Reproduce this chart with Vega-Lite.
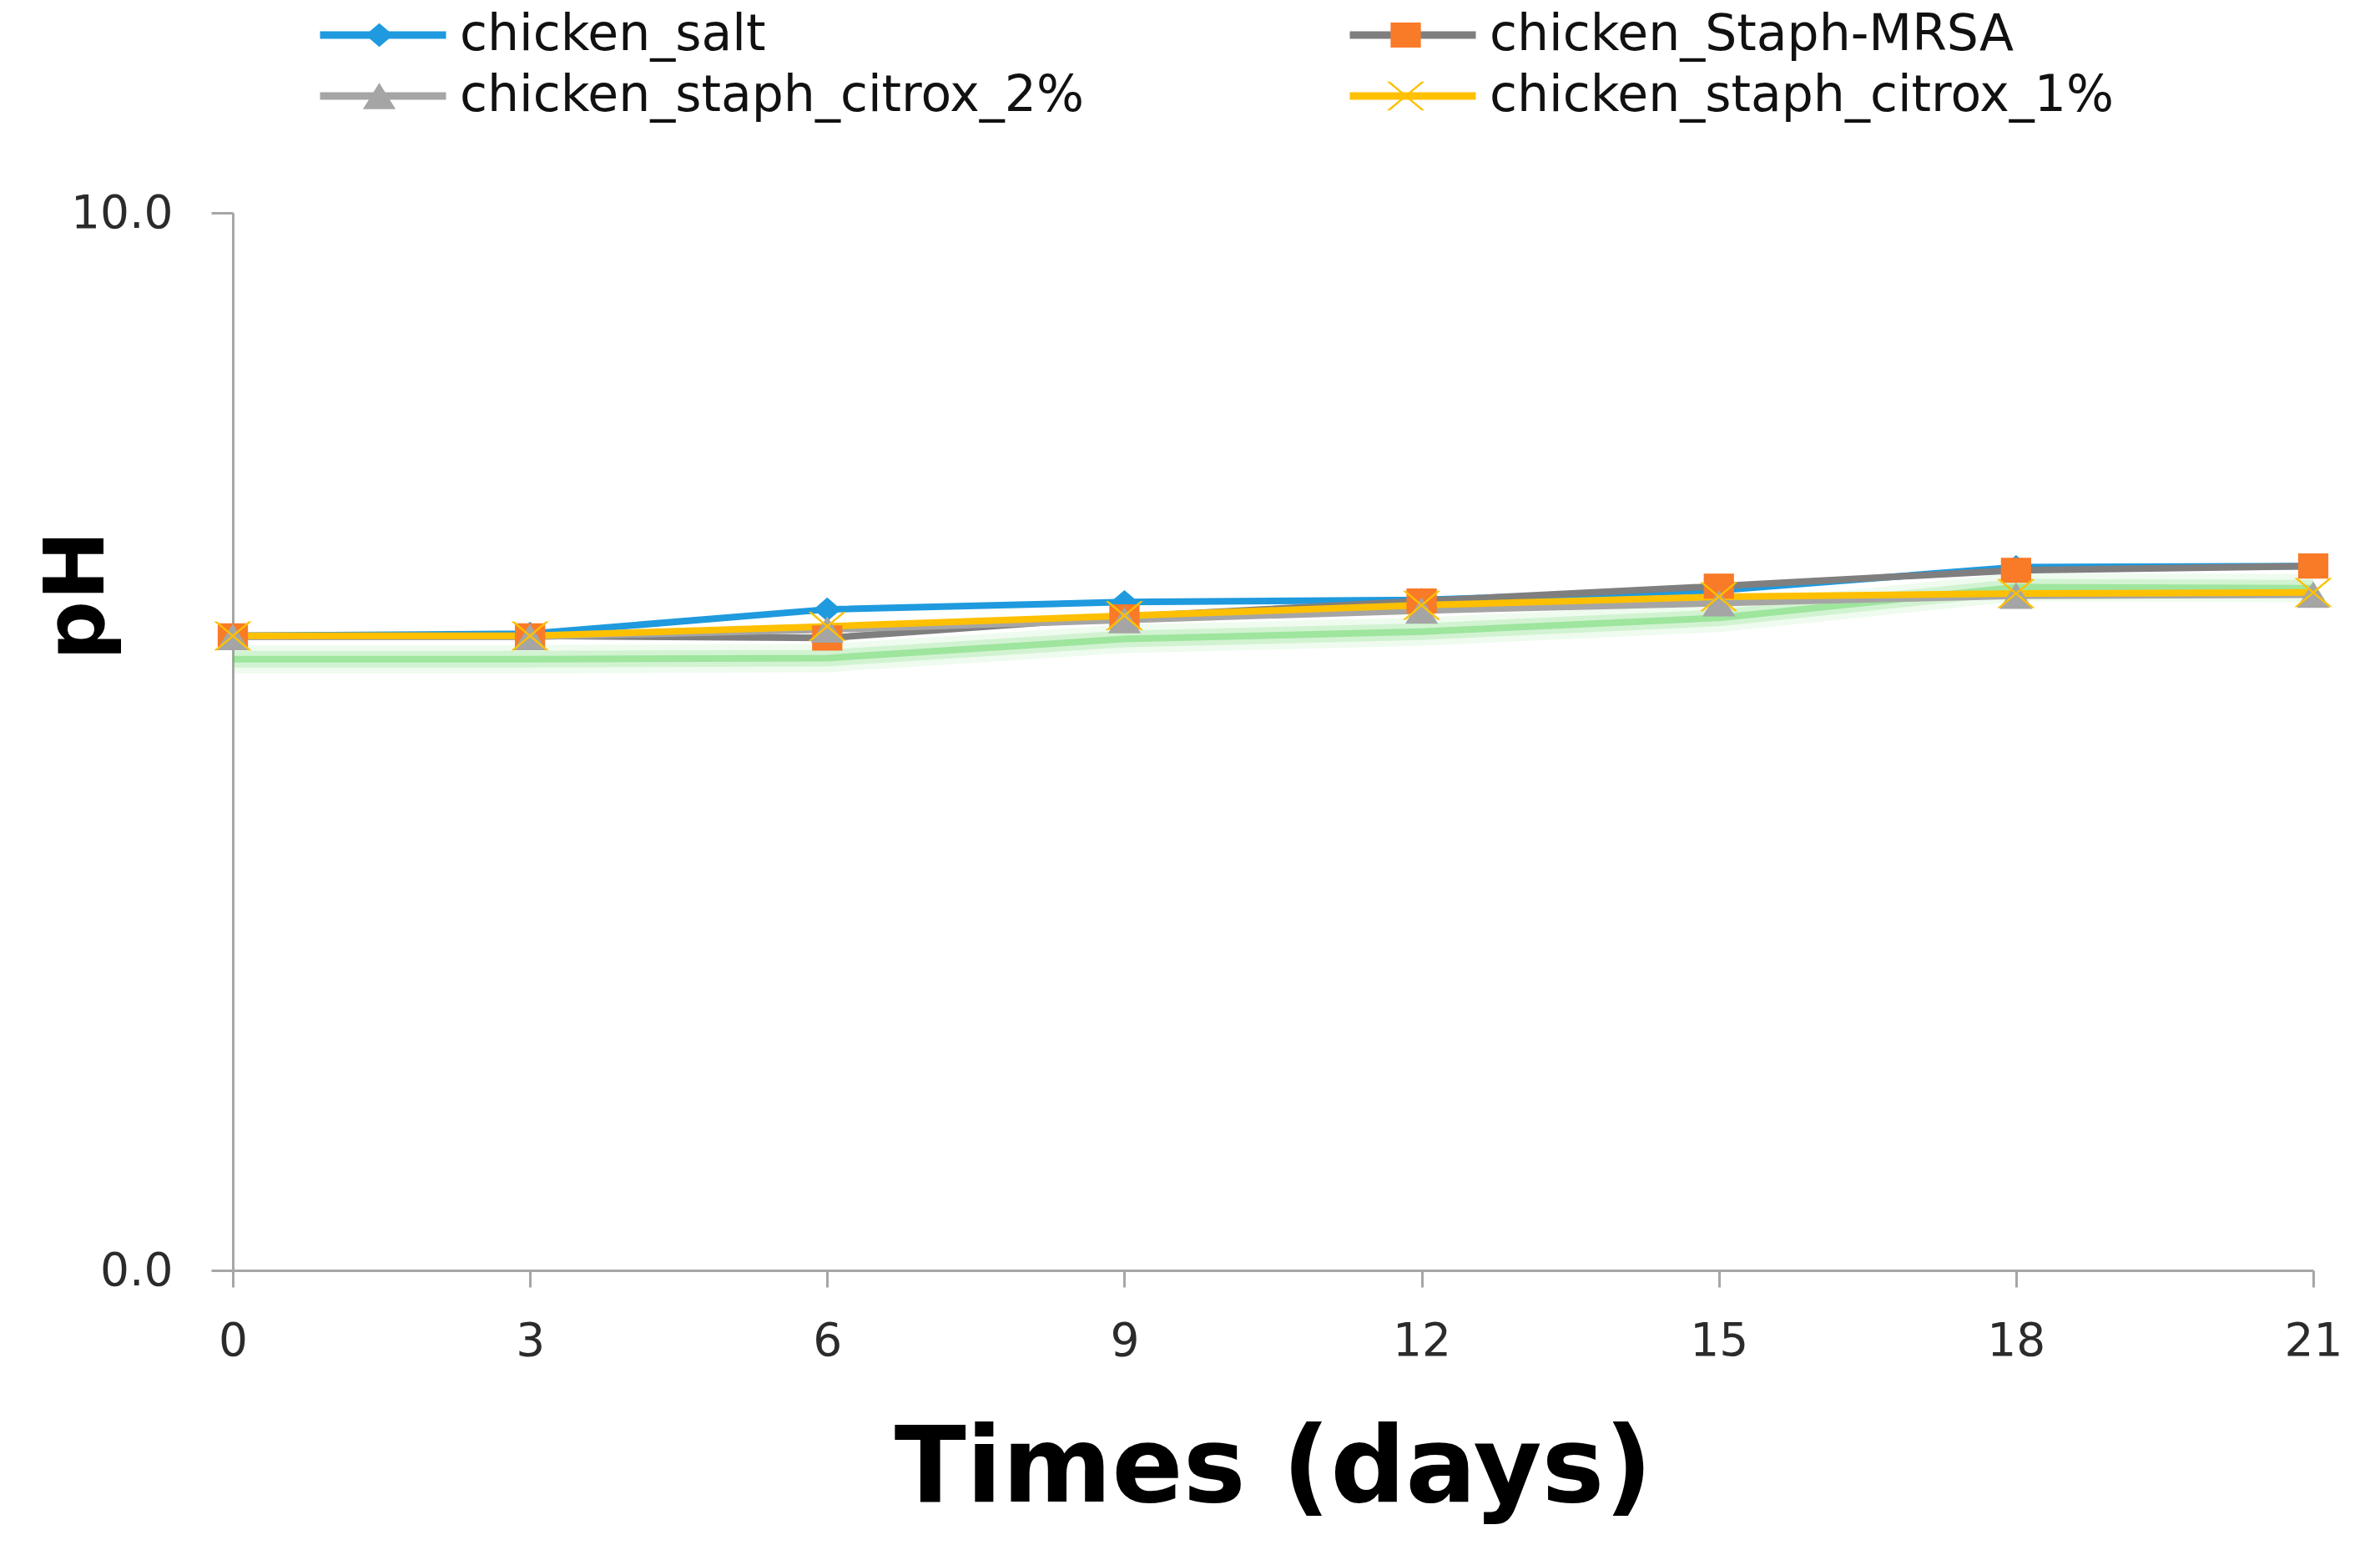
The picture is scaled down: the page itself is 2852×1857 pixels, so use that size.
{
  "$schema": "https://vega.github.io/schema/vega-lite/v6.json",
  "width": 2493,
  "height": 1267,
  "autosize": {"type": "none"},
  "padding": {"left": 279, "top": 255, "right": 80, "bottom": 335},
  "background": "white",
  "config": {"view": {"stroke": null}, "font": "DejaVu Sans"},
  "datasets": {
    "ph": [
      {"series": "chicken_salt", "day": 0, "ph": 6.00},
      {"series": "chicken_salt", "day": 3, "ph": 6.02},
      {"series": "chicken_salt", "day": 6, "ph": 6.25},
      {"series": "chicken_salt", "day": 9, "ph": 6.32},
      {"series": "chicken_salt", "day": 12, "ph": 6.34},
      {"series": "chicken_salt", "day": 15, "ph": 6.43},
      {"series": "chicken_salt", "day": 18, "ph": 6.65},
      {"series": "chicken_salt", "day": 21, "ph": 6.66},
      {"series": "chicken_Staph-MRSA", "day": 0, "ph": 6.00},
      {"series": "chicken_Staph-MRSA", "day": 3, "ph": 6.00},
      {"series": "chicken_Staph-MRSA", "day": 6, "ph": 5.98},
      {"series": "chicken_Staph-MRSA", "day": 9, "ph": 6.18},
      {"series": "chicken_Staph-MRSA", "day": 12, "ph": 6.33},
      {"series": "chicken_Staph-MRSA", "day": 15, "ph": 6.47},
      {"series": "chicken_Staph-MRSA", "day": 18, "ph": 6.62},
      {"series": "chicken_Staph-MRSA", "day": 21, "ph": 6.66},
      {"series": "chicken_staph_citrox_2%", "day": 0, "ph": 5.99},
      {"series": "chicken_staph_citrox_2%", "day": 3, "ph": 5.99},
      {"series": "chicken_staph_citrox_2%", "day": 6, "ph": 6.06},
      {"series": "chicken_staph_citrox_2%", "day": 9, "ph": 6.15},
      {"series": "chicken_staph_citrox_2%", "day": 12, "ph": 6.24},
      {"series": "chicken_staph_citrox_2%", "day": 15, "ph": 6.31},
      {"series": "chicken_staph_citrox_2%", "day": 18, "ph": 6.38},
      {"series": "chicken_staph_citrox_2%", "day": 21, "ph": 6.39},
      {"series": "chicken_staph_citrox_1%", "day": 0, "ph": 6.00},
      {"series": "chicken_staph_citrox_1%", "day": 3, "ph": 6.00},
      {"series": "chicken_staph_citrox_1%", "day": 6, "ph": 6.09},
      {"series": "chicken_staph_citrox_1%", "day": 9, "ph": 6.19},
      {"series": "chicken_staph_citrox_1%", "day": 12, "ph": 6.29},
      {"series": "chicken_staph_citrox_1%", "day": 15, "ph": 6.37},
      {"series": "chicken_staph_citrox_1%", "day": 18, "ph": 6.40},
      {"series": "chicken_staph_citrox_1%", "day": 21, "ph": 6.41}
    ],
    "glow": [
      {"day": 0, "ph": 5.78},
      {"day": 3, "ph": 5.78},
      {"day": 6, "ph": 5.79},
      {"day": 9, "ph": 5.97},
      {"day": 12, "ph": 6.04},
      {"day": 15, "ph": 6.17},
      {"day": 18, "ph": 6.46},
      {"day": 21, "ph": 6.45}
    ]
  },
  "encoding": {
    "x": {
      "field": "day", "type": "quantitative",
      "scale": {"domain": [0, 21], "nice": false, "zero": false},
      "axis": {
        "values": [0, 3, 6, 9, 12, 15, 18, 21],
        "grid": false,
        "domainColor": "#a6a6a6", "domainWidth": 3,
        "tickColor": "#a6a6a6", "tickWidth": 3, "tickSize": 20,
        "labelFont": "DejaVu Sans", "labelFontSize": 55, "labelColor": "#2b2b2b",
        "labelPadding": 38, "labelFlush": false, "labelOverlap": false,
        "title": "Times (days)",
        "titleFont": "DejaVu Sans", "titleFontSize": 126, "titleFontWeight": "bold",
        "titleColor": "#000000", "titleBaseline": "alphabetic", "titleY": 276
      }
    },
    "y": {
      "field": "ph", "type": "quantitative",
      "scale": {"domain": [0, 10], "nice": false, "zero": true},
      "axis": {
        "values": [0, 10],
        "format": ".1f",
        "grid": false,
        "domainColor": "#a6a6a6", "domainWidth": 3,
        "tickColor": "#a6a6a6", "tickWidth": 3, "tickSize": 26,
        "labelFont": "DejaVu Sans", "labelFontSize": 55, "labelColor": "#2b2b2b",
        "labelPadding": 46, "labelFlush": false, "labelOverlap": false,
        "title": "pH",
        "titleFont": "DejaVu Sans", "titleFontSize": 100, "titleFontWeight": "bold",
        "titleColor": "#000000", "titleAngle": 270, "titleBaseline": "middle",
        "titleAlign": "center", "titleX": -186, "titleY": 458
      }
    }
  },
  "layer": [
    {
      "data": {"name": "glow"},
      "mark": {"type": "line", "color": "#4fd04f", "strokeWidth": 34, "opacity": 0.09},
      "encoding": {}
    },
    {
      "data": {"name": "glow"},
      "mark": {"type": "line", "color": "#4fd04f", "strokeWidth": 20, "opacity": 0.18},
      "encoding": {}
    },
    {
      "data": {"name": "glow"},
      "mark": {"type": "line", "color": "#4fd04f", "strokeWidth": 8, "opacity": 0.4},
      "encoding": {}
    },
    {
      "data": {"name": "ph"},
      "mark": {"type": "line", "strokeWidth": 8},
      "encoding": {
        "stroke": {
          "field": "series", "type": "nominal",
          "sort": ["chicken_salt", "chicken_Staph-MRSA", "chicken_staph_citrox_2%", "chicken_staph_citrox_1%"],
          "scale": {"range": ["#1f9ade", "#7f7f7f", "#a5a5a5", "#ffc000"]},
          "legend": {
            "orient": "none", "legendX": 100, "legendY": -243,
            "direction": "horizontal", "columns": 2,
            "columnPadding": 314, "rowPadding": 13, "clipHeight": 60,
            "symbolType": "stroke", "symbolSize": 22801, "symbolStrokeWidth": 9,
            "symbolOffset": 0, "labelOffset": 12,
            "labelFont": "DejaVu Sans", "labelFontSize": 60, "labelColor": "#111111",
            "labelLimit": 2000, "title": null, "padding": 0, "offset": 0
          }
        }
      }
    },
    {
      "data": {"name": "ph"},
      "mark": {"type": "point", "filled": true, "opacity": 1, "size": 22801, "strokeWidth": 0},
      "encoding": {
        "color": {
          "field": "series", "type": "nominal",
          "scale": {
            "domain": ["chicken_salt", "chicken_Staph-MRSA", "chicken_staph_citrox_2%", "chicken_staph_citrox_1%"],
            "range": ["#1f9ade", "#f97a27", "#a5a5a5", "#ffc000"]
          },
          "legend": {
            "orient": "none", "legendX": 100, "legendY": -243,
            "direction": "horizontal", "columns": 2,
            "columnPadding": 1067, "rowPadding": 13, "clipHeight": 60,
            "symbolSize": 22801, "symbolStrokeWidth": 0, "symbolOpacity": 1,
            "symbolOffset": 0, "labelOffset": 12, "labelExpr": "''",
            "labelFont": "DejaVu Sans", "labelFontSize": 60,
            "title": null, "padding": 0, "offset": 0
          }
        },
        "shape": {
          "field": "series", "type": "nominal",
          "scale": {
            "domain": ["chicken_salt", "chicken_Staph-MRSA", "chicken_staph_citrox_2%", "chicken_staph_citrox_1%"],
            "range": [
              "M-1,0L1,0M0,-0.19L0.22,0L0,0.19L-0.22,0Z",
              "M-1,0L1,0M-0.24,-0.2H0.24V0.2H-0.24Z",
              "M-1,0L1,0M0,-0.21L0.26,0.21H-0.26Z",
              "M-1,0L1,0M-0.3,-0.23H-0.25L0.3,0.23H0.25ZM0.25,-0.23H0.3L-0.25,0.23H-0.3Z"
            ]
          },
          "legend": {
            "orient": "none", "legendX": 100, "legendY": -243,
            "direction": "horizontal", "columns": 2,
            "columnPadding": 1067, "rowPadding": 13, "clipHeight": 60,
            "symbolSize": 22801, "symbolStrokeWidth": 0, "symbolOpacity": 1,
            "symbolOffset": 0, "labelOffset": 12, "labelExpr": "''",
            "labelFont": "DejaVu Sans", "labelFontSize": 60,
            "title": null, "padding": 0, "offset": 0
          }
        }
      }
    }
  ]
}
